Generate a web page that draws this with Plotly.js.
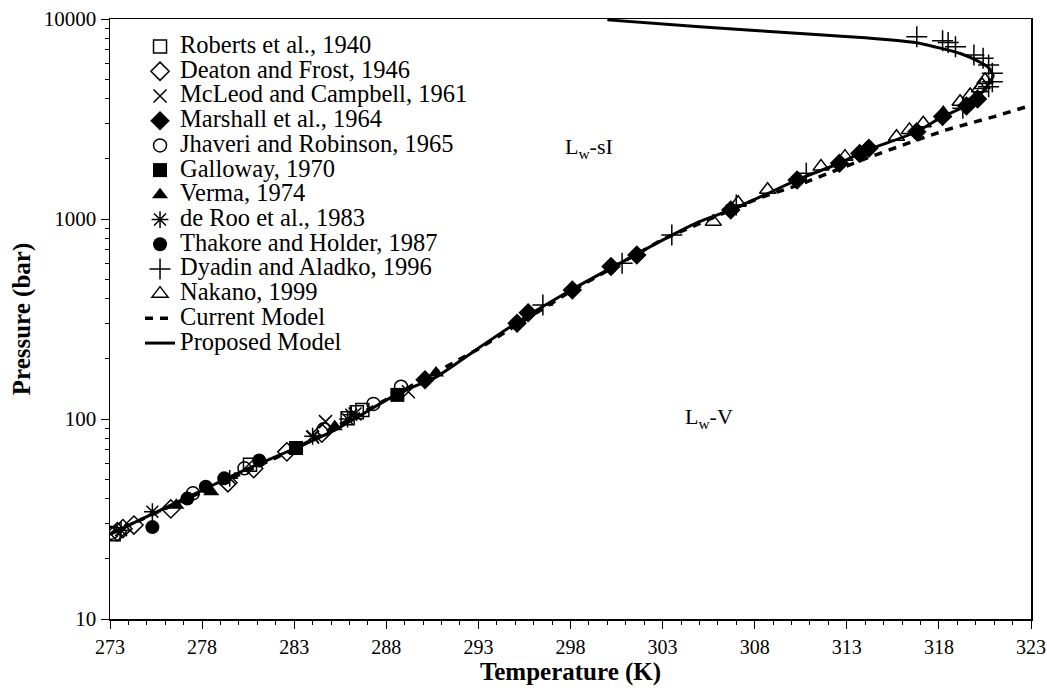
<!DOCTYPE html>
<html>
<head>
<meta charset="utf-8">
<script src="https://cdn.plot.ly/plotly-3.0.1.min.js"></script>
<style>
html,body{margin:0;padding:0;background:#fff;}
#chart{width:1047px;height:694px;}
#chart .legendtext{font-size:24.5px !important;}
#chart .legend .scrollbox{clip-path:none !important;}
</style>
</head>
<body>
<div id="chart"></div>
<script>
// ---- data ----
const robertsT = [273.2, 280.6, 285.9, 286.4, 286.7];
const robertsP = [26.5, 59, 101, 108, 111];

const deatonT = [273.4, 273.7, 274.3, 276.3, 279.4, 280.8, 282.6, 284.5];
const deatonP = [27.3, 28.3, 29.5, 35.5, 48, 56.5, 68.5, 85];

const mcleodT = [284.0, 284.7, 286.3, 289.2];
const mcleodP = [81, 97, 106, 137];

const marshallT = [290.1, 295.1, 295.7, 298.1, 300.2, 301.6, 306.7, 310.3, 312.6, 313.7, 314.2, 316.8, 318.2, 319.5, 320.1];
const marshallP = [157, 301, 340, 442, 578, 661, 1109, 1567, 1898, 2125, 2256, 2733, 3250, 3673, 3982];

const jhaveriT = [273.1, 277.5, 280.3, 284.6, 287.3, 288.8];
const jhaveriP = [27, 42.5, 56.7, 88.8, 119, 145];

const gallowayT = [283.1, 288.6];
const gallowayP = [71.6, 132];

const vermaT = [276.6, 278.5, 285.2, 290.7];
const vermaP = [37, 43.3, 91.5, 170];

const derooT = [273.6, 275.3, 279.5, 284.0, 285.9, 286.1];
const derooP = [27.8, 34.4, 50.5, 82, 100, 105];

const thakoreT = [275.3, 277.2, 278.2, 279.2, 281.1];
const thakoreP = [28.8, 40, 45.9, 50.5, 62];

const dyadinT = [296.5, 300.8, 303.5, 307.0, 310.8, 316.8, 318.2, 318.5, 318.9, 319.3, 319.9, 320.4, 320.7, 320.9, 320.9, 320.7];
const dyadinP = [372, 600, 832, 1175, 1692, 8160, 7790, 7620, 7270, 3575, 6610, 6360, 5890, 5350, 4860, 4590];

const nakanoT = [305.75, 307.1, 308.7, 311.6, 312.9, 315.7, 316.4, 317.15, 318.24, 319.15, 319.7, 320.2, 320.35, 320.5];
const nakanoP = [970, 1205, 1400, 1828, 2050, 2580, 2790, 3010, 3375, 3860, 4170, 4500, 4680, 4955];

const currentT = [273.0, 278.0, 283.0, 288.0, 293.0, 298.0, 303.0, 306.0, 308.3, 310.3, 312.3, 314.3, 316.8, 318.4, 321.0, 323.0];
const currentP = [26.6, 43.5, 70.5, 125, 224, 434, 790, 1040, 1280, 1470, 1740, 2050, 2480, 2790, 3250, 3700];

const proposedT = [273.0, 275.0, 278.0, 280.0, 283.0, 285.2, 288.7, 290.7, 293.0, 295.0, 298.0, 301.5, 303.5, 305.0, 306.7, 308.7, 310.3, 312.6, 313.9, 316.8, 318.2, 319.5, 320.1, 320.6, 320.95, 320.7, 320.2, 319.2, 317.0, 314.0, 311.5, 305.0, 300.0];
const proposedP = [26.6, 32.5, 44, 54, 71, 88, 135, 162, 226, 300, 440, 660, 830, 970, 1110, 1340, 1570, 1900, 2170, 2730, 3250, 3680, 4050, 4600, 5200, 5700, 6100, 6700, 7550, 8050, 8350, 9150, 9900];

const xTickVals = [273, 278, 283, 288, 293, 298, 303, 308, 313, 318, 323];
const yTickVals = [10, 100, 1000, 10000];
const yTickText = ['10', '100', '1000', '10000'];

// ---- build ----
const FONT = 'Liberation Serif, Times New Roman, serif';
function pts(name, x, y, symbol, size) {
  const open = symbol.indexOf('open') >= 0;
  return {
    type: 'scatter', mode: 'markers', name: name, x: x, y: y,
    marker: {symbol: symbol, size: size, color: '#000',
             line: {color: '#000', width: open ? 1.5 : 0}}
  };
}
const data = [
  pts('Roberts et al., 1940', robertsT, robertsP, 'square-open', 13),
  pts('Deaton and Frost, 1946', deatonT, deatonP, 'diamond-open', 14),
  pts('McLeod and Campbell, 1961', mcleodT, mcleodP, 'x-thin-open', 13),
  pts('Marshall et al., 1964', marshallT, marshallP, 'diamond', 15),
  pts('Jhaveri and Robinson, 1965', jhaveriT, jhaveriP, 'circle-open', 13),
  pts('Galloway, 1970', gallowayT, gallowayP, 'square', 14),
  pts('Verma, 1974', vermaT, vermaP, 'triangle-up', 14),
  pts('de Roo et al., 1983', derooT, derooP, 'asterisk-open', 14),
  pts('Thakore and Holder, 1987', thakoreT, thakoreP, 'circle', 14),
  pts('Dyadin and Aladko, 1996', dyadinT, dyadinP, 'cross-thin-open', 15),
  pts('Nakano, 1999', nakanoT, nakanoP, 'triangle-up-open', 14),
  {type: 'scatter', mode: 'lines', name: 'Current Model', x: currentT, y: currentP,
   line: {color: '#000', width: 3.5, dash: '8px,7px'}},
  {type: 'scatter', mode: 'lines', name: 'Proposed Model', x: proposedT, y: proposedP,
   line: {color: '#000', width: 3, shape: 'spline', smoothing: 0.5}}
];

const yMinor = [];
for (let d = 10; d < 10000; d *= 10) for (let k = 2; k <= 9; k++) yMinor.push(k * d);

const layout = {
  width: 1047, height: 694,
  margin: {l: 110, r: 16, t: 19, b: 75},
  paper_bgcolor: '#fff', plot_bgcolor: '#fff',
  font: {family: FONT, color: '#000', size: 20},
  showlegend: true,
  legend: {x: 0.0326, y: 0.983, xanchor: 'left', yanchor: 'top',
           font: {family: FONT, size: 16.7, color: '#000'},
           bgcolor: 'rgba(0,0,0,0)', tracegroupgap: 0, itemwidth: 30},
  xaxis: {
    range: [273, 323], tickmode: 'array', tickvals: xTickVals,
    ticks: 'outside', ticklen: 8, tickwidth: 1, tickcolor: '#000',
    minor: {dtick: 1, tick0: 273, ticks: 'outside', ticklen: 4, tickcolor: '#000', tickwidth: 1},
    showline: true, linecolor: '#000', linewidth: 1.5, mirror: true,
    showgrid: false, zeroline: false, ticklabelstandoff: 1,
    tickfont: {family: FONT, size: 20},
    title: {text: '<b>Temperature (K)</b>', font: {family: FONT, size: 25}, standoff: 6}
  },
  yaxis: {
    type: 'log', range: [1, 4], tickmode: 'array', tickvals: yTickVals, ticktext: yTickText,
    ticks: 'outside', ticklen: 8, tickwidth: 1, tickcolor: '#000',
    minor: {tickmode: 'array', tickvals: yMinor, ticks: 'outside', ticklen: 4, tickcolor: '#000', tickwidth: 1},
    showline: true, linecolor: '#000', linewidth: 1.5, mirror: true,
    showgrid: false, zeroline: false,
    tickfont: {family: FONT, size: 21},
    title: {text: '<b>Pressure (bar)</b>', font: {family: FONT, size: 25}, standoff: 6}
  },
  annotations: [
    {x: 299.0, y: Math.log10(2265), xref: 'x', yref: 'y', text: 'L<sub>w</sub>-sI', showarrow: false,
     font: {family: FONT, size: 22, color: '#000'}},
    {x: 305.5, y: Math.log10(101), xref: 'x', yref: 'y', text: 'L<sub>w</sub>-V', showarrow: false,
     font: {family: FONT, size: 22, color: '#000'}}
  ]
};

Plotly.newPlot('chart', data, layout, {displayModeBar: false, staticPlot: true});
</script>
</body>
</html>
